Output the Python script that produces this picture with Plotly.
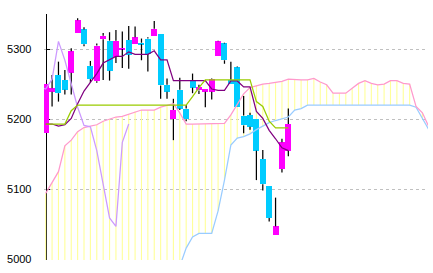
import plotly.graph_objects as go

SHIFT = 25  # chikou lag / senkou lead (periods)

# ---- candles (index 0..38) ----
opens  = [5180, 5239, 5263, 5256, 5266, 5323, 5328, 5276, 5254, 5314,
          5312, 5289, 5300, 5313, 5307, 5309, 5315, 5319, 5322, 5249,
          5200, 5242, 5215, 5255, 5241, 5239, 5239, 5290, 5308, 5256,
          5274, 5205, 5206, 5200, 5143, 5105, 5035, 5129, 5155]
highs  = [5250, 5263, 5282, 5270, 5301, 5344, 5331, 5283, 5308, 5323,
          5324, 5327, 5325, 5333, 5332, 5315, 5317, 5340, 5322, 5258,
          5229, 5259, 5220, 5265, 5249, 5243, 5258, 5312, 5309, 5282,
          5275, 5233, 5209, 5200, 5156, 5105, 5088, 5172, 5215]
lows   = [5180, 5218, 5225, 5235, 5235, 5323, 5304, 5252, 5252, 5256,
          5255, 5280, 5273, 5272, 5307, 5284, 5268, 5319, 5229, 5229,
          5170, 5213, 5197, 5237, 5236, 5217, 5228, 5290, 5279, 5250,
          5217, 5180, 5185, 5113, 5098, 5054, 5035, 5124, 5147]
closes = [5250, 5244, 5237, 5242, 5297, 5341, 5307, 5257, 5305, 5319,
          5269, 5312, 5301.4, 5292, 5317, 5307, 5293, 5329, 5248, 5239,
          5213, 5215, 5200, 5245, 5246, 5243, 5257, 5311, 5284, 5250,
          5217, 5191, 5189, 5155, 5107, 5059, 5047, 5167, 5193]

# ---- ichimoku lines ----
tenkan = [5193, 5193, 5190, 5192, 5201, 5222, 5240, 5252, 5265, 5280,
          5284.5, 5289.5, 5289.5, 5296, 5292.5, 5292.5, 5292.5, 5297.5, 5284.5, 5284.5,
          5255, 5255, 5255, 5255, 5255, 5255, 5243, 5241, 5241, 5254.5,
          5254.5, 5246, 5246, 5211, 5201, 5184, 5172, 5159, 5155]
kijun  = [5193, 5193, 5193, 5193, 5212, 5220, 5220, 5220, 5220, 5220,
          5220, 5220, 5220, 5220, 5220, 5220, 5220, 5220, 5220, 5220,
          5220, 5220, 5220, 5232, 5245, 5256, 5256, 5256, 5256, 5256,
          5256, 5256, 5256, 5225, 5218, 5197, 5187.5, 5187.5, 5187.5]
span_a = [5094, 5109, 5125, 5162, 5170, 5182, 5188, 5190, 5192, 5197,
          5200, 5203, 5204, 5207, 5211, 5213, 5213, 5213, 5217, 5220,
          5222, 5209, 5193, 5193, 5193, 5193, 5193, 5193, 5194, 5206,
          5221, 5236, 5245, 5248, 5250, 5251, 5252, 5254, 5257, 5256,
          5256, 5256, 5258, 5253, 5249, 5237, 5237, 5237, 5244, 5251,
          5255, 5251, 5249, 5250, 5255, 5255, 5251, 5250, 5218, 5209,
          5189]
span_b = [None, None, None, None, None, None, None, None, None, None,
          None, None, None, None, None, None, None, None, None, None,
          None, 4990, 5016, 5032, 5037, 5037, 5037, 5069, 5113, 5163,
          5173, 5175, 5179, 5185, 5190, 5195, 5198, 5200, 5203, 5213,
          5215, 5220, 5220, 5220, 5220, 5220, 5220, 5220, 5220, 5220,
          5220, 5220, 5220, 5220, 5220, 5220, 5220, 5220, 5217, 5202,
          5185]

y_ticks = [5000, 5100, 5200, 5300]
y_tick_text = ["5000", "5100", "5200", "5300"]

Y_MIN, Y_MAX = 4999, 5350
PX_PER_BAR = 6.385
LEFT, RIGHT = 44, 5
PLOT_W = 433 - LEFT - RIGHT
X_MIN = -1.7 / PX_PER_BAR
X_MAX = X_MIN + PLOT_W / PX_PER_BAR

UP, DOWN = "#ff00ff", "#00ccff"
LW = 1.25

n = len(closes)
idx = list(range(n))

fig = go.Figure()

# cloud: vertical yellow strokes between span A and span B (base subplot, under candles)
cx, cy = [], []
for i, a in enumerate(span_a):
    b = span_b[i]
    bottom = Y_MIN if b is None else max(b, Y_MIN)
    if a > bottom:
        cx += [i, i, None]
        cy += [bottom, a, None]
fig.add_trace(go.Scatter(x=cx, y=cy, mode="lines",
                         line=dict(color="#ffff99", width=1.1), hoverinfo="skip"))

# wicks
wx, wy = [], []
for i in idx:
    top = max(opens[i], closes[i])
    bot = min(opens[i], closes[i])
    if highs[i] > top:
        wx += [i, i, None]
        wy += [top, highs[i], None]
    if lows[i] < bot:
        wx += [i, i, None]
        wy += [lows[i], bot, None]
fig.add_trace(go.Scatter(x=wx, y=wy, mode="lines", line=dict(color="black", width=LW),
                         xaxis="x2", yaxis="y2", hoverinfo="skip"))

# bodies
fig.add_trace(go.Bar(
    x=idx,
    base=[min(o, c) for o, c in zip(opens, closes)],
    y=[max(abs(c - o), 1.2) for o, c in zip(opens, closes)],
    width=0.94,
    marker=dict(color=[UP if c >= o else DOWN for o, c in zip(opens, closes)],
                line=dict(width=0)),
    xaxis="x2", yaxis="y2", hoverinfo="skip"))

span_x = list(range(len(span_a)))
fig.add_trace(go.Scatter(x=span_x, y=span_b, mode="lines",
                         line=dict(color="#99ccff", width=LW), xaxis="x2", yaxis="y2"))
fig.add_trace(go.Scatter(x=span_x, y=span_a, mode="lines",
                         line=dict(color="#ff99cc", width=LW), xaxis="x2", yaxis="y2"))
fig.add_trace(go.Scatter(x=[i - SHIFT for i in idx], y=closes, mode="lines",
                         line=dict(color="#cc99ff", width=LW), xaxis="x2", yaxis="y2"))
fig.add_trace(go.Scatter(x=idx, y=tenkan, mode="lines",
                         line=dict(color="#800080", width=LW), xaxis="x2", yaxis="y2"))
fig.add_trace(go.Scatter(x=idx, y=kijun, mode="lines",
                         line=dict(color="#99cc00", width=LW), xaxis="x2", yaxis="y2"))

fig.update_layout(
    width=433, height=273,
    margin=dict(l=LEFT, r=RIGHT, t=14, b=13, pad=0),
    plot_bgcolor="white", paper_bgcolor="white",
    showlegend=False,
    xaxis=dict(range=[X_MIN, X_MAX], showgrid=False, showticklabels=False,
               ticks="", zeroline=False, showline=False),
    yaxis=dict(range=[Y_MIN, Y_MAX], tickvals=y_ticks, ticktext=y_tick_text,
               anchor="free", position=(-X_MIN * PX_PER_BAR) / PLOT_W,
               showgrid=True, gridcolor="#c0c0c0", gridwidth=1, griddash="3px,3px",
               ticks="inside", ticklen=3, tickwidth=1, tickcolor="black",
               showline=True, linecolor="black", linewidth=1,
               layer="below traces", zeroline=False,
               ticklabelstandoff=12,
               tickfont=dict(family="Liberation Sans", size=11, color="black")),
    xaxis2=dict(overlaying="x", anchor="y2", range=[X_MIN, X_MAX], visible=False),
    yaxis2=dict(overlaying="y", anchor="x2", range=[Y_MIN, Y_MAX], visible=False),
    bargap=0,
)

fig.write_html("out.html")
